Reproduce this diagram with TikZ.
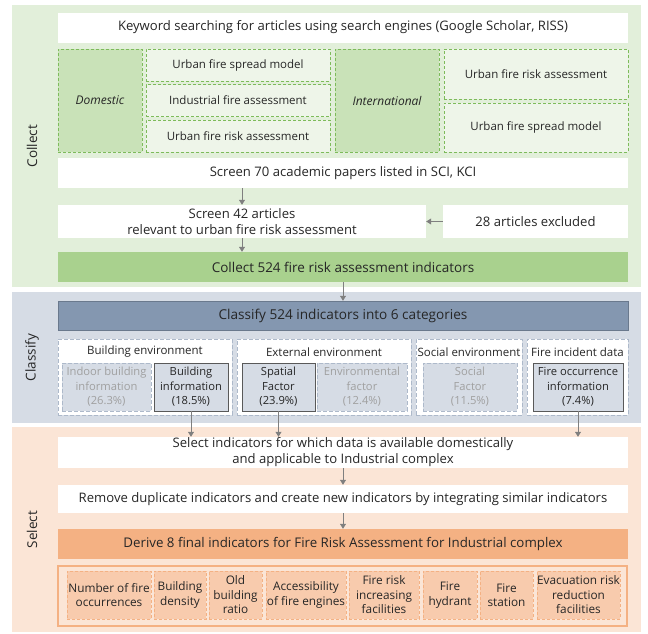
\documentclass[tikz,border=0pt]{standalone}
\usepackage{fontspec}
\setmainfont{Open Sans}
\usetikzlibrary{positioning, arrows.meta, fit, backgrounds}

\definecolor{txt}{HTML}{262626}
\definecolor{grtxt}{HTML}{A0A0A0}
\definecolor{cpanel}{HTML}{E2EFDA}
\definecolor{cgroup}{HTML}{C9E2B8}
\definecolor{citem}{HTML}{EEF5E9}
\definecolor{cline}{HTML}{7DBB5A}
\definecolor{cmain}{HTML}{A9D18E}
\definecolor{kpanel}{HTML}{D6DCE5}
\definecolor{kmain}{HTML}{8497B0}
\definecolor{kline}{HTML}{ADB9CA}
\definecolor{kdark}{HTML}{595959}
\definecolor{spanel}{HTML}{FBE5D6}
\definecolor{smain}{HTML}{F4B183}
\definecolor{sitem}{HTML}{F8CBAD}
\definecolor{arrgray}{HTML}{7F7F7F}

\begin{document}
\begin{tikzpicture}[x=1pt, y=-1pt,
  sz/.style 2 args={minimum width=#1pt, minimum height=#2pt, inner sep=0pt},
  panel/.style={fill=#1, minimum width=629pt, inner sep=0pt},
  plain/.style={fill=white, align=center, text=txt, font=\fontsize{13.1}{16}\selectfont},
  dgroup/.style={draw=cline, dash pattern=on 3pt off 2pt, line width=0.8pt, fill=cgroup, text=txt,
                 font=\fontsize{12}{16}\selectfont\itshape},
  ditem/.style={draw=cline, dash pattern=on 3pt off 2pt, line width=0.8pt, fill=citem, text=txt,
                font=\fontsize{11.5}{15}\selectfont},
  cmainbox/.style={fill=cmain, text=txt, font=\fontsize{13.5}{16}\selectfont},
  kmainbox/.style={fill=kmain, draw=kmain!80!black, text=txt, font=\fontsize{13.6}{16}\selectfont},
  kgroup/.style={draw=kline, dash pattern=on 4pt off 2pt, line width=1pt, fill=white},
  ktitle/.style={text=txt, font=\fontsize{11.5}{15}\selectfont},
  koff/.style={draw=kline, dash pattern=on 4pt off 2pt, line width=1pt, fill=kpanel, align=center,
               text=grtxt, font=\fontsize{11.2}{14.5}\selectfont},
  kon/.style={draw=kdark, line width=0.9pt, fill=kpanel, align=center, text=txt,
              font=\fontsize{11.2}{14.5}\selectfont},
  smainbox/.style={fill=smain, text=txt, font=\fontsize{13.3}{16}\selectfont},
  souter/.style={draw=smain, line width=2.2pt, fill=spanel},
  sitembox/.style={draw=smain, dash pattern=on 3pt off 2pt, line width=0.8pt, fill=sitem,
                   align=center, text=txt, font=\fontsize{11.8}{14.5}\selectfont},
  stage/.style={rotate=90, text=txt, font=\fontsize{13.5}{16}\selectfont},
  arr/.style={-{Triangle[length=5pt, width=6pt]}, line width=0.8pt, color=arrgray},
]
\useasboundingbox (0,0) rectangle (648,633);

% === Stage panels ===
\node[panel=cpanel, minimum height=282pt] (pcol) at (326.5,146) {};
\node[panel=kpanel, minimum height=131pt] (pcls) at (326.5,357.5) {};
\node[panel=spanel, minimum height=205pt] (psel) at (326.5,529.5) {};

\node[stage] at (32,146) {Collect};
\node[stage] at (32,357.5) {Classify};
\node[stage] at (32,529.5) {Select};

% === Collect ===
\node[plain, sz={570}{30}] (kw) at (343,27.5)
  {Keyword searching for articles using search engines (Google Scholar, RISS)};

\node[dgroup, sz={84}{103}] (dom) at (100,100.5) {Domestic};
\node[ditem, sz={184}{32}] (d1) at (238,65) {Urban fire spread model};
\node[ditem, sz={184}{32}] (d2) at (238,100.5) {Industrial fire assessment};
\node[ditem, sz={184}{32}] (d3) at (238,136) {Urban fire risk assessment};

\node[dgroup, sz={104}{103}] (int) at (387,100.5) {International};
\node[ditem, sz={184}{50}] (i1) at (536,74) {Urban fire risk assessment};
\node[ditem, sz={184}{49}] (i2) at (536,127.5) {Urban fire spread model};

\node[plain, sz={570}{30}] (scr70) at (343,173) {Screen 70 academic papers listed in SCI, KCI};
\node[plain, sz={368}{33}] (scr42) at (242,221.5)
  {Screen 42 articles\\relevant to urban fire risk assessment};
\node[plain, sz={185}{33}] (excl) at (535.5,221.5) {28 articles excluded};
\node[cmainbox, sz={570}{30}] (col524) at (343,267) {Collect 524 fire risk assessment indicators};

% === Classify ===
\node[kmainbox, sz={570}{29}] (cls524) at (343,315.5) {Classify 524 indicators into 6 categories};

\node[kgroup, sz={174}{76}] (gb) at (145,377) {};
\node[kgroup, sz={174}{76}] (ge) at (324,377) {};
\node[kgroup, sz={106}{76}] (gs) at (469,377) {};
\node[kgroup, sz={101}{76}] (gf) at (577.5,377) {};

\node[ktitle] at (145,352) {Building environment};
\node[ktitle] at (324,352) {External environment};
\node[ktitle] at (469,352) {Social environment};
\node[ktitle] at (577.5,352) {Fire incident data};

\node[koff, sz={89}{48}] (ib) at (106.5,387) {Indoor building\\information\\(26.3\%)};
\node[kon, sz={74}{48}] (bi) at (191,387) {Building\\information\\(18.5\%)};
\node[kon, sz={73}{48}] (sf) at (278.5,387) {Spatial\\Factor\\(23.9\%)};
\node[koff, sz={90}{48}] (ef) at (362,387) {Environmental\\factor\\(12.4\%)};
\node[koff, sz={94}{48}] (so) at (470,387) {Social\\Factor\\(11.5\%)};
\node[kon, sz={90}{48}] (fo) at (578,387) {Fire occurrence\\information\\(7.4\%)};

% === Select ===
\node[plain, sz={570}{31}] (sel) at (343,452.5)
  {Select indicators for which data is available domestically\\and applicable to Industrial complex};
\node[plain, sz={570}{28}] (rem) at (343,499)
  {Remove duplicate indicators and create new indicators by integrating similar indicators};
\node[smainbox, sz={570}{30}] (der) at (343,544)
  {Derive 8 final indicators for Fire Risk Assessment for Industrial complex};

\node[souter, sz={569}{60}] (fin) at (342.5,596) {};
\node[sitembox, sz={84}{48}] (f1) at (109,595) {Number of fire\\occurrences};
\node[sitembox, sz={52}{48}] (f2) at (180,595) {Building\\density};
\node[sitembox, sz={53}{48}] (f3) at (235.5,595) {Old\\building\\ratio};
\node[sitembox, sz={80}{48}] (f4) at (306,595) {Accessibility\\of fire engines};
\node[sitembox, sz={70}{48}] (f5) at (384,595) {Fire risk\\increasing\\facilities};
\node[sitembox, sz={54}{48}] (f6) at (450,595) {Fire\\hydrant};
\node[sitembox, sz={53}{48}] (f7) at (506.5,595) {Fire\\station};
\node[sitembox, sz={83}{48}] (f8) at (578.5,595) {Evacuation risk\\reduction\\facilities};

% === Arrows ===
\draw[arr] (scr42.north |- scr70.south) -- (scr42.north);
\draw[arr] (scr42.south) -- (scr42.south |- col524.north);
\draw[arr] (excl.west) -- (scr42.east);
\draw[arr] (col524.south) -- (cls524.north);
\draw[arr] (bi.south) -- (bi.south |- sel.north);
\draw[arr] (sf.south) -- (sf.south |- sel.north);
\draw[arr] (fo.south) -- (fo.south |- sel.north);
\draw[arr] (sel.south) -- (rem.north);
\draw[arr] (rem.south) -- (der.north);

\end{tikzpicture}
\end{document}
